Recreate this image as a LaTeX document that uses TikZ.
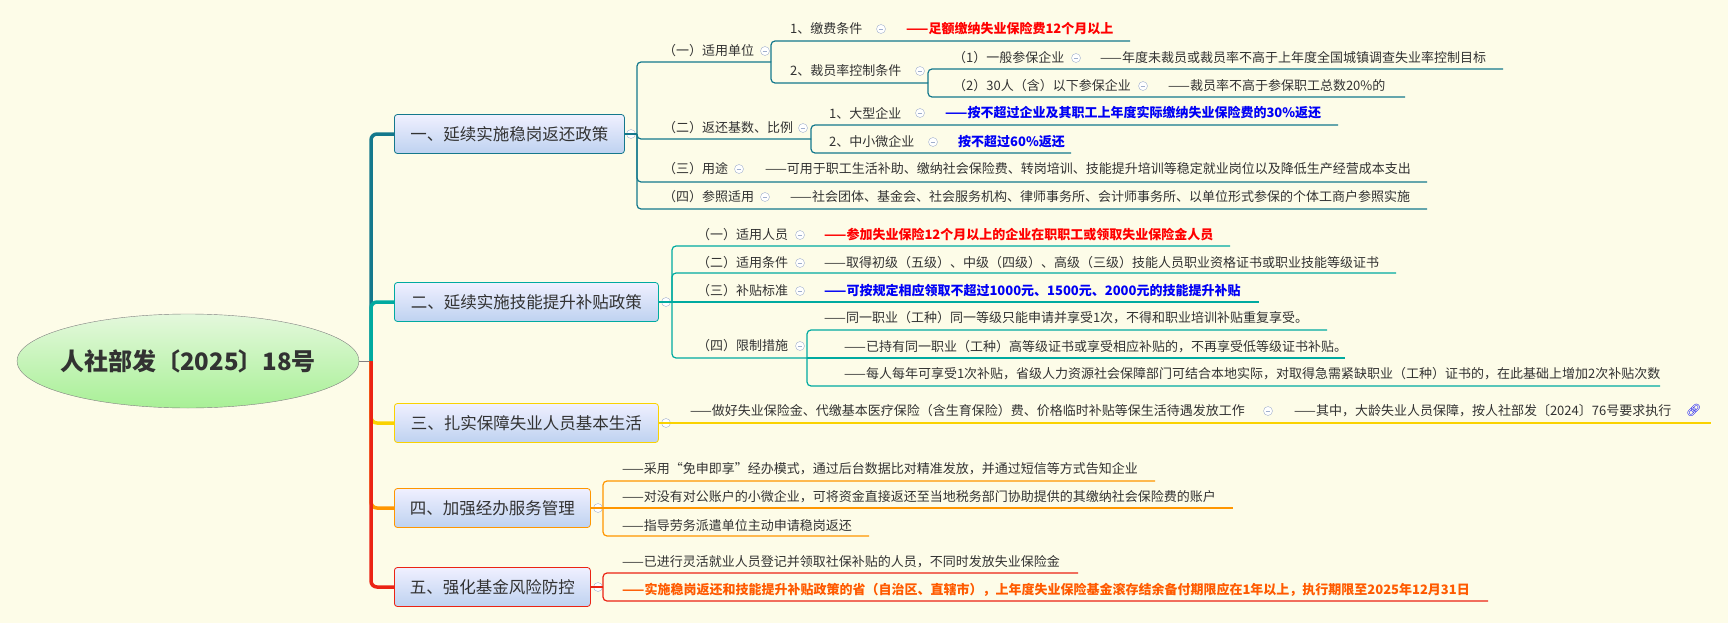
\documentclass[tikz,border=0pt]{standalone}
\usepackage{fontspec}
\setmainfont{Noto Sans CJK SC}
\newfontfamily\emojifont{Noto Emoji}
\usetikzlibrary{shapes.geometric}
\definecolor{paperBg}{RGB}{253,252,232}
\definecolor{inkGray}{RGB}{50,50,50}
\definecolor{lineA}{RGB}{20,120,140}
\definecolor{lineB}{RGB}{0,170,160}
\definecolor{lineC}{RGB}{250,210,0}
\definecolor{lineD}{RGB}{255,150,0}
\definecolor{lineE}{RGB}{235,35,20}
\definecolor{hotRed}{RGB}{255,0,0}
\definecolor{hotBlue}{RGB}{0,0,245}
\definecolor{hotOrange}{RGB}{255,90,0}
\definecolor{foldGray}{RGB}{160,175,205}
\tikzset{
  leaf/.style={font=\fontsize{13}{15}\selectfont, inner sep=0pt, anchor=west, text=inkGray},
  hot/.style={leaf, text=#1, font=\fontsize{13}{15}\bfseries},
  branchbox/.style={draw=#1, thick, rounded corners=3, minimum height=39, anchor=west,
    top color=blue!6, bottom color={rgb,255:red,190;green,210;blue,240},
    text=inkGray, font=\fontsize{16.5}{18}\selectfont},
  trunk/.style={line width=3.5, rounded corners=6},
  uline/.style={line width=1.2, rounded corners=4},
  fold/.pic={\draw[foldGray, fill=white] (0,0) circle (4.5); \draw[foldGray] (-2.3,0) -- (2.3,0);}
}
\begin{document}
\begin{tikzpicture}[x=1pt, y=-1pt]
\fill[paperBg] (0,0) rectangle (1728,623);
\useasboundingbox (0,0) rectangle (1728,623);

% root and main branches
\node[ellipse, draw=gray, inner xsep=-40pt, minimum width=342, minimum height=94, top color={rgb,255:red,228;green,248;blue,220},
  bottom color={rgb,255:red,168;green,240;blue,150}, font=\fontsize{24}{26}\bfseries, text=inkGray] (root) at (188,361) {人社部发〔2025〕18号};
\node[branchbox=lineA, minimum width=230] (b1) at (394,134) {一、延续实施稳岗返还政策};
\node[branchbox=lineB, minimum width=264] (b2) at (394,302) {二、延续实施技能提升补贴政策};
\node[branchbox=lineC, minimum width=264] (b3) at (394,423) {三、扎实保障失业人员基本生活};
\node[branchbox=lineD, minimum width=196] (b4) at (394,508) {四、加强经办服务管理};
\node[branchbox=lineE, minimum width=196] (b5) at (394,587) {五、强化基金风险防控};
\coordinate (hub) at (371,361);
\draw[gray] (root.east) -- (hub);
\draw[trunk, lineA] (hub) |- (b1.west);
\draw[trunk, lineB] (hub) |- (b2.west);
\draw[trunk, lineC] (hub) |- (b3.west);
\draw[trunk, lineD] (hub) |- (b4.west);
\draw[trunk, lineE] (hub) |- (b5.west);

% branch 1
\node[leaf] (s1a) at (663,51) {（一）适用单位};
\node[leaf] (s1b) at (663,128) {（二）返还基数、比例};
\node[leaf] (s1c) at (663,169) {（三）用途};
\node[leaf] (s1d) at (663,197) {（四）参照适用};
\node[leaf] (k11) at (790,29) {1、缴费条件};
\node[hot=hotRed] (v11) at (906,29) {——足额缴纳失业保险费12个月以上};
\node[leaf] (k12) at (790,71) {2、裁员率控制条件};
\node[leaf] (k121) at (953,58) {（1）一般参保企业};
\node[leaf] (v121) at (1100,58) {——年度未裁员或裁员率不高于上年度全国城镇调查失业率控制目标};
\node[leaf] (k122) at (953,86) {（2）30人（含）以下参保企业};
\node[leaf] (v122) at (1168,86) {——裁员率不高于参保职工总数20\%的};
\node[leaf] (k21) at (829,113) {1、大型企业};
\node[hot=hotBlue] (v21) at (945,113) {——按不超过企业及其职工上年度实际缴纳失业保险费的30\%返还};
\node[leaf] (k22) at (829,142) {2、中小微企业};
\node[hot=hotBlue] (v22) at (958,142) {按不超过60\%返还};
\node[leaf] (v3) at (765,169) {——可用于职工生活补助、缴纳社会保险费、转岗培训、技能提升培训等稳定就业岗位以及降低生产经营成本支出};
\node[leaf] (v4) at (790,197) {——社会团体、基金会、社会服务机构、律师事务所、会计师事务所、以单位形式参保的个体工商户参照实施};
\foreach \p in {(631,134),(765,51),(803,128),(739,169),(765,197),(881,29),(920,71),(1076,58),(1143,86),(920,113),(933,142)}
  \pic at \p {fold};
\draw[uline, lineA] (b1.east) -- (637,134);
\draw[uline, lineA] (637,134) |- (771,62);
\draw[uline, lineA] (637,134) |- (811,139);
\draw[uline, lineA] (637,134) |- (1427,182);
\draw[uline, lineA] (637,134) |- (1427,209);
\draw[uline, lineA] (771,62) |- (1130,41);
\draw[uline, lineA] (771,62) |- (928,83);
\draw[uline, lineA] (928,83) |- (1503,69);
\draw[uline, lineA] (928,83) |- (1405,97);
\draw[uline, lineA] (811,139) |- (1338,125);
\draw[uline, lineA] (811,139) |- (1071,153);

% branch 2
\node[leaf] (s2a) at (697,235) {（一）适用人员};
\node[hot=hotRed] (w2a) at (824,235) {——参加失业保险12个月以上的企业在职职工或领取失业保险金人员};
\node[leaf] (s2b) at (697,263) {（二）适用条件};
\node[leaf] (w2b) at (824,263) {——取得初级（五级）、中级（四级）、高级（三级）技能人员职业资格证书或职业技能等级证书};
\node[leaf] (s2c) at (697,291) {（三）补贴标准};
\node[hot=hotBlue] (w2c) at (824,291) {——可按规定相应领取不超过1000元、1500元、2000元的技能提升补贴};
\node[leaf] (s2d) at (697,346) {（四）限制措施};
\node[leaf] (w2d1) at (824,318) {——同一职业（工种）同一等级只能申请并享受1次，不得和职业培训补贴重复享受。};
\node[leaf] (w2d2) at (844,347) {——已持有同一职业（工种）高等级证书或享受相应补贴的，不再享受低等级证书补贴。};
\node[leaf] (w2d3) at (844,374) {——每人每年可享受1次补贴，省级人力资源社会保障部门可结合本地实际，对取得急需紧缺职业（工种）证书的，在此基础上增加2次补贴次数};
\foreach \p in {(666,302),(800,235),(800,263),(800,291),(800,346)}
  \pic at \p {fold};
\draw[uline, lineB] (b2.east) -- (672,302);
\draw[uline, lineB] (672,302) |- (1230,246);
\draw[uline, lineB] (672,302) |- (1396,273);
\draw[uline, lineB] (672,302) -- (1259,302);
\draw[uline, lineB] (672,302) |- (807,358);
\draw[uline, lineB] (807,358) |- (1327,330);
\draw[uline, lineB] (807,358) -- (1345,358);
\draw[uline, lineB] (807,358) |- (1660,386);

% branch 3
\node[leaf] (w3a) at (690,411) {——做好失业保险金、代缴基本医疗保险（含生育保险）费、价格临时补贴等保生活待遇发放工作};
\node[leaf] (w3b) at (1294,411) {——其中，大龄失业人员保障，按人社部发〔2024〕76号要求执行};
\node[leaf, text=hotBlue, font=\emojifont\fontsize{12}{14}\selectfont] (lnk) at (1686,410) {🔗};
\pic at (666,423) {fold};
\pic at (1268,411) {fold};
\draw[uline, lineC] (b3.east) -- (1711,423);

% branch 4
\node[leaf] (w4a) at (622,469) {——采用“免申即享”经办模式，通过后台数据比对精准发放，并通过短信等方式告知企业};
\node[leaf] (w4b) at (622,497) {——对没有对公账户的小微企业，可将资金直接返还至当地税务部门协助提供的其缴纳社会保险费的账户};
\node[leaf] (w4c) at (622,526) {——指导劳务派遣单位主动申请稳岗返还};
\pic at (598,508) {fold};
\draw[uline, lineD] (b4.east) -- (603,508);
\draw[uline, lineD] (603,508) |- (1155,481);
\draw[uline, lineD] (603,508) -- (1233,508);
\draw[uline, lineD] (603,508) |- (869,536);

% branch 5
\node[leaf] (w5a) at (622,562) {——已进行灵活就业人员登记并领取社保补贴的人员，不同时发放失业保险金};
\node[hot=hotOrange] (w5b) at (622,590) {——实施稳岗返还和技能提升补贴政策的省（自治区、直辖市），上年度失业保险基金滚存结余备付期限应在1年以上，执行期限至2025年12月31日};
\pic at (598,587) {fold};
\draw[uline, lineE] (b5.east) -- (603,587);
\draw[uline, lineE] (603,587) |- (1078,573);
\draw[uline, lineE] (603,587) |- (1488,601);
\end{tikzpicture}
\end{document}
